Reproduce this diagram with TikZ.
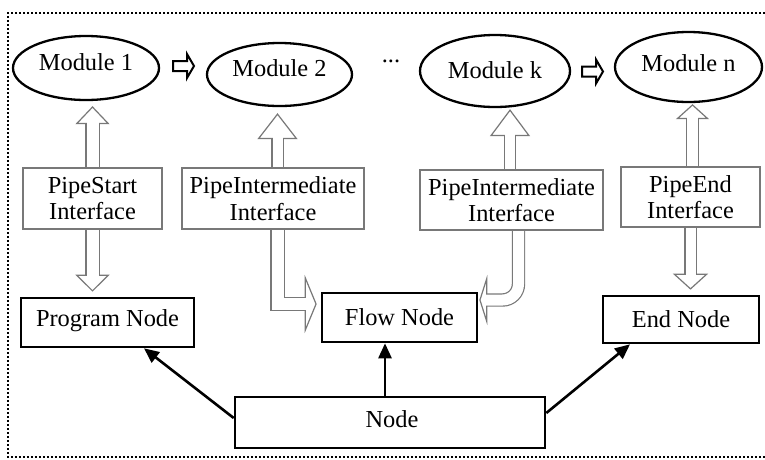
\documentclass[tikz,border=0pt]{standalone}
\usepackage{fontspec}
\setmainfont{Liberation Serif}
\usetikzlibrary{arrows.meta,shapes.geometric,backgrounds,calc}
\definecolor{ifgray}{RGB}{120,120,120}
\tikzset{
  module/.style={ellipse, draw, line width=2.3pt, inner sep=0pt},
  iface/.style={draw=ifgray, line width=1.3pt, align=center, inner sep=0pt},
  unitbox/.style={draw, line width=2.6pt, inner sep=0pt},
  conn/.style={line width=2.6pt, -{Triangle[length=15pt,width=13pt]}},
  % outline of a hollow block arrow: outer width, head length, head width
  hollowedge/.style n args={3}{draw=ifgray, line width=#1, line join=miter,
    -{Triangle[length=#2, width=#3, fill=white, line width=1.2pt]}},
  % white core of a hollow block arrow: shaft width, shortening
  hollowcore/.style n args={2}{draw=white, line width=#1, line join=miter, shorten >=#2},
  stepsym/.pic={\draw[line width=2pt, line join=miter]
    (0,-5) -- (14,-5) -- (14,-12) -- (21,0) -- (14,12) -- (14,5) -- (0,5) -- cycle;},
}
\begin{document}
\begin{tikzpicture}[x=1pt, y=-1pt, font=\fontsize{24.4}{26.6}\selectfont]
\useasboundingbox (0,0) rectangle (765,459);

% modules
\node[module, minimum width=146pt, minimum height=64pt,
  label={[name=m1t, anchor=base, yshift=6pt]center:Module 1}] (m1) at (86,68) {};
\node[module, minimum width=145pt, minimum height=63pt,
  label={[name=m2t, anchor=base, yshift=6.5pt]center:Module 2}] (m2) at (279.5,74.5) {};
\node[module, minimum width=150pt, minimum height=72pt,
  label={[name=mkt, anchor=base, yshift=0.5pt]center:Module k}] (mk) at (495,71) {};
\node[module, minimum width=147pt, minimum height=70pt,
  label={[name=mnt, anchor=base, yshift=4pt]center:Module n}] (mn) at (688.5,67) {};
\node[anchor=base, inner sep=0pt] (dots) at (391,62) {...};

% steps between modules
\pic (s1) at (173,66) {stepsym};
\pic (s2) at (582,71.5) {stepsym};

% interfaces
\node[iface, minimum width=139pt, minimum height=61pt] (ps) at (92.5,198.5) {PipeStart\\Interface};
\node[iface, minimum width=182pt, minimum height=61pt] (pil) at (273,198.5) {PipeIntermediate\\Interface};
\node[iface, minimum width=183pt, minimum height=60pt] (pir) at (511.5,200) {PipeIntermediate\\Interface};
\node[iface, minimum width=139pt, minimum height=60pt] (pe) at (690.5,197) {PipeEnd\\Interface};

% node classes
\node[unitbox, minimum width=173pt, minimum height=49pt,
  label={[name=prt, anchor=base, yshift=1.5pt]center:Program Node}] (pr) at (107.5,322.5) {};
\node[unitbox, minimum width=155pt, minimum height=49pt,
  label={[name=flt, anchor=base, yshift=0.5pt]center:Flow Node}] (fl) at (399.5,317.5) {};
\node[unitbox, minimum width=156pt, minimum height=47pt,
  label={[name=ent, anchor=base, yshift=0.5pt]center:End Node}] (en) at (681,319.5) {};
\node[unitbox, minimum width=310pt, minimum height=51pt,
  label={[name=ndt, anchor=base, xshift=2pt, yshift=3.5pt]center:Node}] (nd) at (390,422.5) {};

% inheritance arrows
\draw[conn] ($(nd.west)+(0,-4.5)$) -- ($(pr.south)+(36.5,0)$);
\draw[conn] ($(nd.north)+(-5,0)$) -- ($(nd.north |- fl.south)+(-5,0)$);
\draw[conn] ($(nd.east)+(0,-9.5)$) -- ($(en.south)+(-51,0)$);

\begin{scope}[on background layer]
\fill[white] (0,0) rectangle (765,459);
% hollow arrows
\draw[hollowedge={14.4pt}{18pt}{34pt}] (ps.north) -- ($(ps.north |- m1.south)+(0,5)$);
\draw[hollowcore={12pt}{16pt}] (ps.north) -- ($(ps.north |- m1.south)+(0,5)$);
\draw[hollowedge={14.4pt}{17pt}{34pt}] (ps.south) -- ($(ps.south |- pr.north)+(0,-5)$);
\draw[hollowcore={12pt}{15pt}] (ps.south) -- ($(ps.south |- pr.north)+(0,-5)$);
\draw[hollowedge={12.4pt}{26pt}{40pt}] ($(pil.north)+(4.5,0)$) -- ($(pil.north |- m2.south)+(4.5,6)$);
\draw[hollowcore={10pt}{24pt}] ($(pil.north)+(4.5,0)$) -- ($(pil.north |- m2.south)+(4.5,6)$);
\draw[hollowedge={12.4pt}{27pt}{40pt}] ($(pir.north)+(-1.5,0)$) -- ($(pir.north |- mk.south)+(-1.5,1)$);
\draw[hollowcore={10pt}{25pt}] ($(pir.north)+(-1.5,0)$) -- ($(pir.north |- mk.south)+(-1.5,1)$);
\draw[hollowedge={13.4pt}{15pt}{33pt}] ($(pe.north)+(2,0)$) -- ($(pe.north |- mn.south)+(2,1)$);
\draw[hollowcore={11pt}{13pt}] ($(pe.north)+(2,0)$) -- ($(pe.north |- mn.south)+(2,1)$);
\draw[hollowedge={12.4pt}{16pt}{35pt}] (pe.south) -- ($(pe.south |- en.north)+(0,-5)$);
\draw[hollowcore={10pt}{14pt}] (pe.south) -- ($(pe.south |- en.north)+(0,-5)$);
% bent hollow arrows into the flow node
\draw[hollowedge={14.4pt}{12pt}{58pt}] ($(pil.south)+(4.5,0)$) |- ($(fl.west)+(-4,-13.5)$);
\draw[hollowcore={12pt}{10pt}] ($(pil.south)+(4.5,0)$) |- ($(fl.west)+(-4,-13.5)$);
\draw[hollowedge={13.4pt}{8pt}{50pt}, rounded corners=16pt] ($(pir.south)+(7,0)$) |- ($(fl.east)+(1,-17.5)$);
\draw[hollowcore={11pt}{6pt}, rounded corners=16pt] ($(pir.south)+(7,0)$) |- ($(fl.east)+(1,-17.5)$);
\end{scope}

% dotted frame
\draw[line width=1.8pt, dash pattern=on 1.8pt off 2.2pt] (765,13) -- (8,13) -- (8,457) -- (765,457);
\end{tikzpicture}
\end{document}
